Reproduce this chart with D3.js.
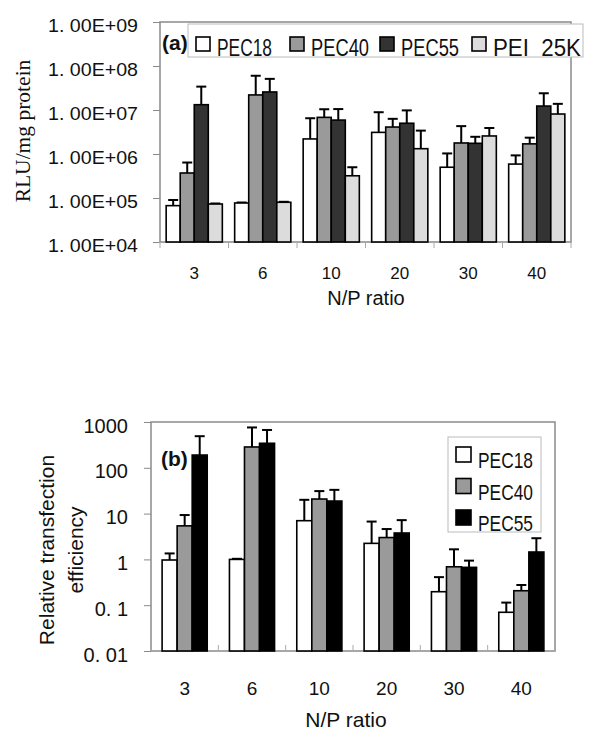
<!DOCTYPE html>
<html><head><meta charset="utf-8">
<script src="https://cdn.jsdelivr.net/npm/d3@7/dist/d3.min.js"></script>
<style>body{margin:0;background:#fff}svg{display:block}</style>
</head><body>
<svg id="c" width="597" height="746"></svg>
<script>
// ---------- DATA ----------
const categories = ["3", "6", "10", "20", "30", "40"];
// Chart (a): RLU/mg protein
const seriesA = ["PEC18", "PEC40", "PEC55", "PEI  25K"];
const pec18A = [6.7e4, 7.7e4, 2.2e6, 3.1e6, 5.0e5, 5.9e5];
const pec40A = [3.7e5, 2.2e7, 6.8e6, 4.1e6, 1.78e6, 1.7e6];
const pec55A = [1.32e7, 2.57e7, 5.9e6, 5.0e6, 1.75e6, 1.23e7];
const pei25A = [7.3e4, 8.0e4, 3.2e5, 1.32e6, 2.57e6, 8.1e6];
const pec18AErr = [9.0e4, 7.9e4, 6.5e6, 8.9e6, 1.03e6, 9.3e5];
const pec40AErr = [6.4e5, 6.0e7, 1.04e7, 6.3e6, 4.3e6, 2.35e6];
const pec55AErr = [3.4e7, 5.1e7, 1.05e7, 9.8e6, 2.46e6, 2.4e7];
const pei25AErr = [7.5e4, 8.2e4, 5.0e5, 3.4e6, 3.9e6, 1.38e7];
const ticksA = [1e4, 1e5, 1e6, 1e7, 1e8, 1e9];
const tickLabelsA = ["1. 00E+04", "1. 00E+05", "1. 00E+06", "1. 00E+07", "1. 00E+08", "1. 00E+09"];
// Chart (b): relative transfection efficiency
const seriesB = ["PEC18", "PEC40", "PEC55"];
const pec18B = [0.97, 1.0, 7.0, 2.24, 0.197, 0.07];
const pec40B = [5.4, 285, 20.8, 3.0, 0.69, 0.207];
const pec55B = [190, 343, 18.8, 3.77, 0.67, 1.45];
const pec18BErr = [1.35, 1.03, 20, 6.7, 0.41, 0.114];
const pec40BErr = [9.3, 760, 31, 4.6, 1.66, 0.276];
const pec55BErr = [490, 670, 33, 7.2, 0.94, 2.9];
const ticksB = [0.01, 0.1, 1, 10, 100, 1000];
const tickLabelsB = ["0. 01", "0. 1", "1", "10", "100", "1000"];

const colorsA = ["#ffffff", "#9a9a9a", "#333333", "#dcdcdc"];
const colorsB = ["#ffffff", "#9a9a9a", "#000000"];

const svg = d3.select("#c");
const axisGray = "#8a8a8a";
const FONT = "Liberation Sans, Arial, sans-serif";

function drawChart(cfg) {
  const {left, right, top, bottom, domain, ticks, tickLabels, series, values, errs, colors, pad, tickDir} = cfg;
  const x = d3.scaleBand().domain(categories).range([left, right]).paddingInner(pad).paddingOuter(pad / 2);
  const xs = d3.scaleBand().domain(series.map((d, i) => i)).range([0, x.bandwidth()]);
  const y = d3.scaleLog().domain(domain).range([bottom, top]);
  const g = svg.append("g");

  g.append("rect").attr("x", left).attr("y", top).attr("width", right - left).attr("height", bottom - top)
    .attr("fill", "none").attr("stroke", axisGray).attr("stroke-width", 1.5);

  const yAxis = d3.axisLeft(y).tickValues(ticks).tickFormat((d, i) => tickLabels[i]).tickSize(7).tickPadding(cfg.yPad);
  const ya = g.append("g").attr("transform", `translate(${left},0)`).call(yAxis);
  ya.attr("font-size", null).attr("font-family", null);
  ya.select(".domain").remove();
  ya.selectAll("line").attr("stroke", axisGray);
  ya.selectAll("text").style("font-family", FONT).style("font-size", cfg.yFont + "px")
    .attr("fill", "#111").attr("dy", cfg.yDy);
  if (cfg.yTextLen) ya.selectAll("text").attr("textLength", cfg.yTextLen).attr("lengthAdjust", "spacingAndGlyphs");

  const bounds = d3.range(categories.length + 1).map(i => left + i * x.step());
  g.selectAll(".xt").data(bounds).enter().append("line")
    .attr("x1", d => d).attr("x2", d => d).attr("y1", bottom).attr("y2", bottom + tickDir * 6)
    .attr("stroke", "#aaa").attr("stroke-width", 1);

  g.selectAll(".xl").data(categories).enter().append("text")
    .attr("x", d => x(d) + x.bandwidth() / 2).attr("y", cfg.xLabelY)
    .attr("text-anchor", "middle").style("font-family", FONT)
    .style("font-size", cfg.xFont + "px").attr("fill", "#111").text(d => d);

  series.forEach((s, si) => {
    const gg = g.append("g");
    categories.forEach((c, ci) => {
      const v = values[si][ci];
      const bx = x(c) + xs(si);
      const bw = xs.bandwidth();
      const ey = y(errs[si][ci]);
      const cx = bx + bw / 2;
      gg.append("line").attr("x1", cx).attr("x2", cx).attr("y1", y(v)).attr("y2", ey)
        .attr("stroke", "#000").attr("stroke-width", 2);
      gg.append("line").attr("x1", cx - 5).attr("x2", cx + 5).attr("y1", ey).attr("y2", ey)
        .attr("stroke", "#000").attr("stroke-width", 2);
      gg.append("rect").attr("x", bx).attr("y", y(v)).attr("width", bw).attr("height", bottom - y(v))
        .attr("fill", colors[si]).attr("stroke", "#000").attr("stroke-width", 1.6);
    });
  });
  return {x, y, g, ya};
}

// ----- Chart (a) -----
const A = drawChart({
  left: 160, right: 571, top: 22, bottom: 242, domain: [1e4, 1e9], ticks: ticksA, tickLabels: tickLabelsA,
  series: seriesA, values: [pec18A, pec40A, pec55A, pei25A], errs: [pec18AErr, pec40AErr, pec55AErr, pei25AErr],
  colors: colorsA, pad: 0.18, tickDir: 1, yPad: 15, yFont: 19, yDy: "0.5em", xLabelY: 279, xFont: 17, yTextLen: 90
});
const legA = svg.append("g");
legA.append("rect").attr("x", 188).attr("y", 24).attr("width", 395).attr("height", 33)
  .attr("fill", "#fff").attr("stroke", "#bbb").attr("stroke-width", 1);
const legAX = [196, 290, 380, 472];
const legATW = [55, 58, 58, 88];
seriesA.forEach((s, i) => {
  legA.append("rect").attr("x", legAX[i]).attr("y", 37).attr("width", 14).attr("height", 14)
    .attr("fill", colorsA[i]).attr("stroke", "#000").attr("stroke-width", 1.6);
  legA.append("text").attr("x", legAX[i] + 21).attr("y", 56).style("font-family", FONT)
    .style("font-size", "23px").attr("textLength", legATW[i]).attr("lengthAdjust", "spacingAndGlyphs")
    .attr("fill", "#111").style("white-space", "pre").text(s);
});
svg.append("text").attr("x", 162).attr("y", 50).style("font-family", FONT)
  .attr("font-weight", "bold").style("font-size", "21px").attr("fill", "#111").text("(a)");
svg.append("text").attr("transform", "translate(30,131) rotate(-90)").attr("text-anchor", "middle")
  .style("font-family", "Liberation Serif, Times New Roman, serif").style("font-size", "21.5px").attr("fill", "#111")
  .text("RLU/mg protein");
svg.append("text").attr("x", 366).attr("y", 305).attr("text-anchor", "middle")
  .style("font-family", FONT).style("font-size", "20px").attr("fill", "#111").text("N/P ratio");

// ----- Chart (b) -----
const B = drawChart({
  left: 151, right: 555, top: 422, bottom: 651, domain: [0.01, 1000], ticks: ticksB, tickLabels: tickLabelsB,
  series: seriesB, values: [pec18B, pec40B, pec55B], errs: [pec18BErr, pec40BErr, pec55BErr],
  colors: colorsB, pad: 0.33, tickDir: -1, yPad: 16, yFont: 20, yDy: "0.5em", xLabelY: 695, xFont: 19
});
const legB = svg.append("g");
legB.append("rect").attr("x", 448).attr("y", 437).attr("width", 93).attr("height", 95)
  .attr("fill", "#fff").attr("stroke", "#bbb").attr("stroke-width", 1);
seriesB.forEach((s, i) => {
  legB.append("rect").attr("x", 456).attr("y", 447 + i * 31.5).attr("width", 15).attr("height", 15)
    .attr("fill", colorsB[i]).attr("stroke", "#000").attr("stroke-width", 1.6);
  legB.append("text").attr("x", 478).attr("y", 468 + i * 31.5).style("font-family", FONT)
    .style("font-size", "22px").attr("textLength", 55).attr("lengthAdjust", "spacingAndGlyphs")
    .attr("fill", "#111").text(s);
});
svg.append("text").attr("x", 161).attr("y", 466).style("font-family", FONT)
  .attr("font-weight", "bold").style("font-size", "21px").attr("fill", "#111").text("(b)");
const yt = svg.append("text").attr("transform", "translate(0,550) rotate(-90)").attr("text-anchor", "middle")
  .style("font-family", FONT).style("font-size", "21px").attr("fill", "#111");
yt.append("tspan").attr("x", 0).attr("y", 54).text("Relative transfection");
yt.append("tspan").attr("x", 0).attr("y", 83).text("efficiency");
svg.append("text").attr("x", 346).attr("y", 727).attr("text-anchor", "middle")
  .style("font-family", FONT).style("font-size", "21px").attr("fill", "#111").text("N/P ratio");
</script>
</body></html>
